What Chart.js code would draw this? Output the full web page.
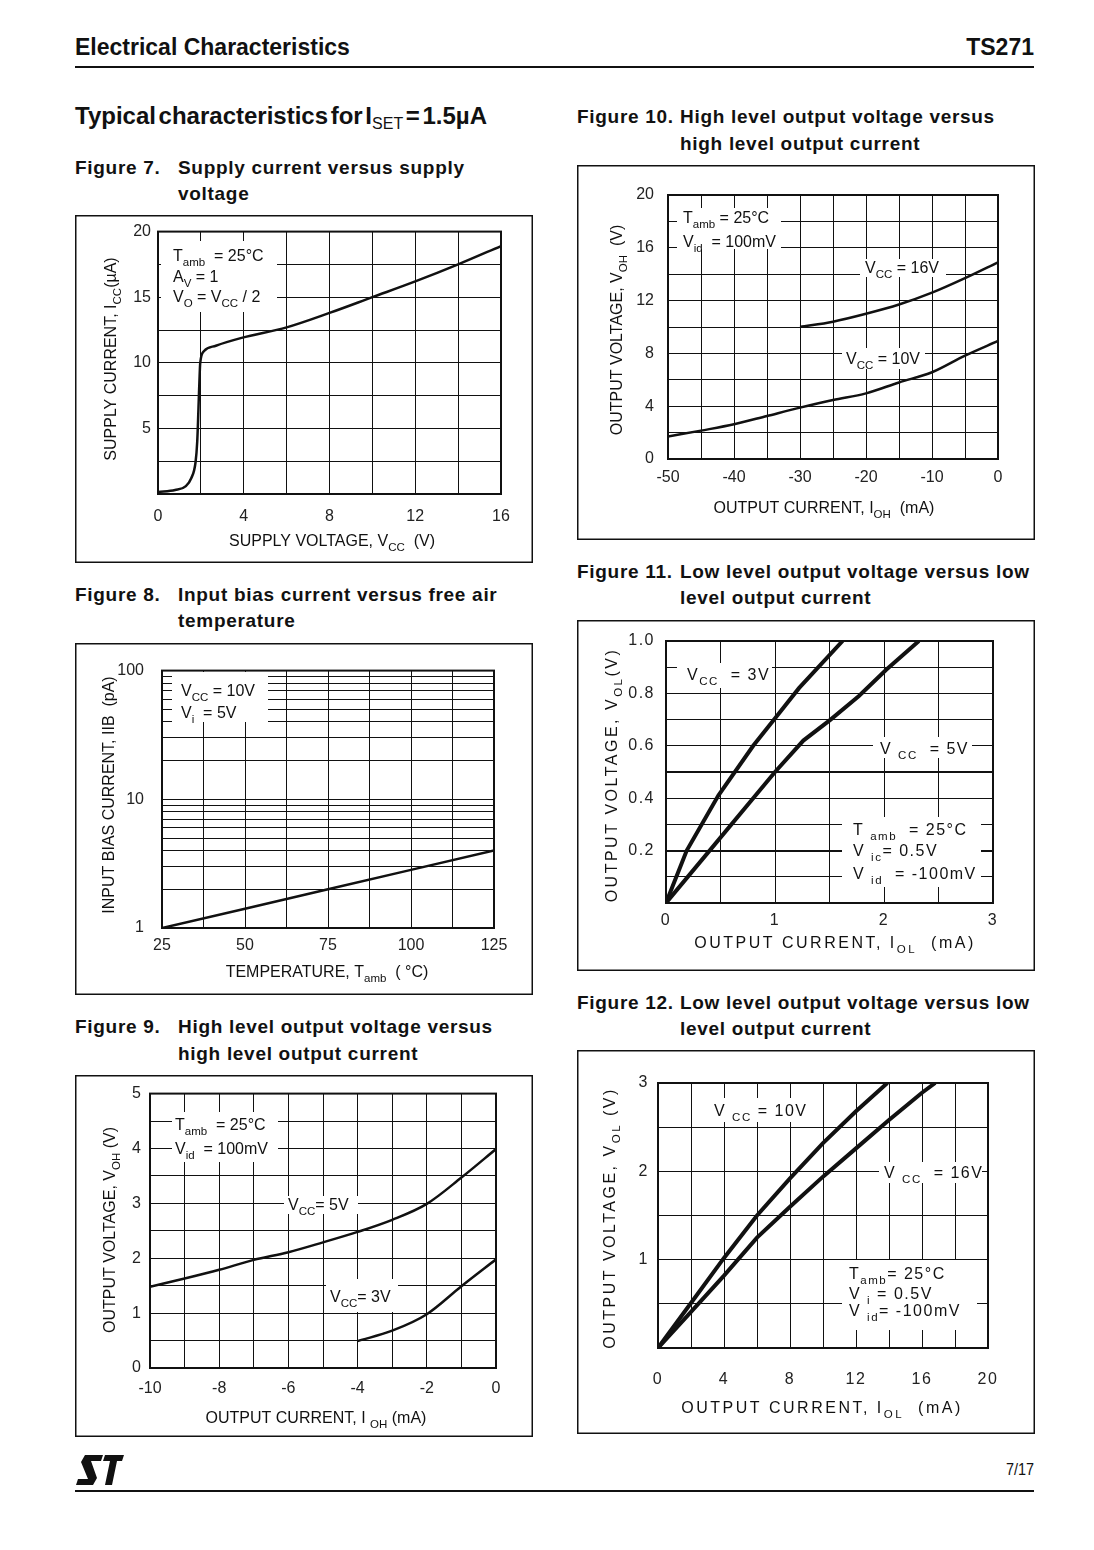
<!DOCTYPE html>
<html>
<head>
<meta charset="utf-8">
<script src="https://cdn.jsdelivr.net/npm/chart.js@4.4.0/dist/chart.umd.min.js"></script>
<style>
  body { margin: 0; background: #fff; }
  #page { position: relative; width: 1094px; height: 1550px; font-family: "Liberation Sans", Arial, sans-serif; color: #111; }
  .t { position: absolute; white-space: nowrap; line-height: 1; font-weight: bold; }
  .h { font-size: 23px; }
  .h2 { font-size: 24px; word-spacing: -4px; }
  .ft { font-size: 19px; letter-spacing: 0.7px; }
  .rule { position: absolute; left: 75px; width: 959px; background: #111; }
  canvas { position: absolute; }
</style>
</head>
<body>
<div id="page">
  <div class="t h" style="left:75px;top:36px">Electrical Characteristics</div>
  <div class="t h" style="right:60px;top:36px">TS271</div>
  <div class="rule" style="top:66px;height:2px"></div>

  <div class="t h2" style="left:75px;top:104px">Typical characteristics for I<span style="font-size:16px;position:relative;top:5px;font-weight:normal">SET</span> = 1.5µA</div>

  <div class="t ft" style="left:75px;top:158px">Figure 7.</div>
  <div class="t ft" style="left:178px;top:158px">Supply current versus supply</div>
  <div class="t ft" style="left:178px;top:184px">voltage</div>
  <canvas id="fig7" width="458" height="348" style="left:75px;top:215px"></canvas>

  <div class="t ft" style="left:75px;top:585px">Figure 8.</div>
  <div class="t ft" style="left:178px;top:585px">Input bias current versus free air</div>
  <div class="t ft" style="left:178px;top:611px">temperature</div>
  <canvas id="fig8" width="458" height="352" style="left:75px;top:643px"></canvas>

  <div class="t ft" style="left:75px;top:1017px">Figure 9.</div>
  <div class="t ft" style="left:178px;top:1017px">High level output voltage versus</div>
  <div class="t ft" style="left:178px;top:1044px">high level output current</div>
  <canvas id="fig9" width="458" height="362" style="left:75px;top:1075px"></canvas>

  <div class="t ft" style="left:577px;top:107px">Figure 10.</div>
  <div class="t ft" style="left:680px;top:107px">High level output voltage versus</div>
  <div class="t ft" style="left:680px;top:134px">high level output current</div>
  <canvas id="fig10" width="458" height="375" style="left:577px;top:165px"></canvas>

  <div class="t ft" style="left:577px;top:562px">Figure 11.</div>
  <div class="t ft" style="left:680px;top:562px">Low level output voltage versus low</div>
  <div class="t ft" style="left:680px;top:588px">level output current</div>
  <canvas id="fig11" width="458" height="351" style="left:577px;top:620px"></canvas>

  <div class="t ft" style="left:577px;top:993px">Figure 12.</div>
  <div class="t ft" style="left:680px;top:993px">Low level output voltage versus low</div>
  <div class="t ft" style="left:680px;top:1019px">level output current</div>
  <canvas id="fig12" width="458" height="384" style="left:577px;top:1050px"></canvas>

  <svg style="position:absolute;left:76px;top:1455px" width="48" height="30" viewBox="0 0 48 30">
    <polygon fill="#111" points="9,0 27,0 25,6 15,6 21,23 17,30 0,30 2,24 12,24 5,7"/>
    <polygon fill="#111" points="29,0 48,0 46,6 41,6 36,30 29,30 34,6 27,6"/>
  </svg>
  <div class="t" style="right:60px;top:1461px;font-size:17px;font-weight:normal;transform:scaleX(0.85);transform-origin:right">7/17</div>
  <div class="rule" style="top:1490px;height:1.5px"></div>
</div>

<script>
// Figure 7: supply current vs supply voltage
const fig7Vcc = [0, 0.8, 1.3, 1.55, 1.75, 1.83, 1.93, 1.97, 2.15, 2.7, 3.9, 6, 8, 10, 12, 14, 16];
const fig7Icc = [0.15, 0.3, 0.6, 1.2, 2.4, 4, 8.5, 10, 10.9, 11.3, 11.9, 12.7, 13.8, 15, 16.2, 17.5, 18.9];
const fig7XGrid = [0, 2, 4, 6, 8, 10, 12, 14, 16];
const fig7XLabels = [0, 4, 8, 12, 16];
const fig7YGrid = [0, 2.5, 5, 7.5, 10, 12.5, 15, 17.5, 20];
const fig7YLabels = [5, 10, 15, 20];

// Figure 8: input bias current vs temperature
const fig8Temp = [25, 50, 75, 100, 125];
const fig8Iib = [1, 1.41, 2, 2.83, 4];
const fig8XGrid = [25, 37.5, 50, 62.5, 75, 87.5, 100, 112.5, 125];
const fig8XLabels = [25, 50, 75, 100, 125];
const fig8YGrid = [1, 2, 3, 4, 5, 6, 7, 8, 9, 10, 20, 30, 40, 50, 60, 70, 80, 90, 100];
const fig8YLabels = [1, 10, 100];

// Figure 9: VOH vs IOH, Vcc = 5V and 3V
const fig9Ioh5 = [-10, -9, -8, -7, -6, -5, -4, -3, -2, -1, 0];
const fig9Voh5 = [1.48, 1.63, 1.79, 1.97, 2.11, 2.29, 2.48, 2.7, 2.99, 3.47, 3.99];
const fig9Ioh3 = [-4, -3, -2, -1, 0];
const fig9Voh3 = [0.49, 0.68, 0.98, 1.49, 1.98];
const fig9XGrid = [-10, -9, -8, -7, -6, -5, -4, -3, -2, -1, 0];
const fig9XLabels = [-10, -8, -6, -4, -2, 0];
const fig9YGrid = [0, 0.5, 1, 1.5, 2, 2.5, 3, 3.5, 4, 4.5, 5];
const fig9YLabels = [0, 1, 2, 3, 4, 5];

// Figure 10: VOH vs IOH, Vcc = 16V and 10V
const fig10Ioh16 = [-30, -25, -20, -15, -10, -5, 0];
const fig10Voh16 = [10.0, 10.4, 11.0, 11.7, 12.6, 13.7, 14.9];
const fig10Ioh10 = [-50, -45, -40, -35, -30, -25, -20, -15, -10, -5, 0];
const fig10Voh10 = [1.7, 2.15, 2.63, 3.26, 3.89, 4.47, 4.97, 5.8, 6.57, 7.83, 8.94];
const fig10XGrid = [-50, -45, -40, -35, -30, -25, -20, -15, -10, -5, 0];
const fig10XLabels = [-50, -40, -30, -20, -10, 0];
const fig10YGrid = [0, 2, 4, 6, 8, 10, 12, 14, 16, 18, 20];
const fig10YLabels = [0, 4, 8, 12, 16, 20];

// Figure 11: VOL vs IOL, Vcc = 3V and 5V
const fig11Iol3 = [0, 0.19, 0.48, 0.8, 1.01, 1.22, 1.62];
const fig11Vol3 = [0, 0.2, 0.41, 0.6, 0.71, 0.82, 1.0];
const fig11Iol5 = [0, 0.4, 1.0, 1.26, 1.51, 1.77, 2.02, 2.32];
const fig11Vol5 = [0, 0.2, 0.5, 0.62, 0.7, 0.79, 0.89, 1.0];
const fig11XGrid = [0, 0.5, 1, 1.5, 2, 2.5, 3];
const fig11XLabels = [0, 1, 2, 3];
const fig11YGrid = [0, 0.1, 0.2, 0.3, 0.4, 0.5, 0.6, 0.7, 0.8, 0.9, 1.0];
const fig11YLabels = [0.2, 0.4, 0.6, 0.8, 1.0];
const fig11YBold = [0.2, 0.5];

// Figure 12: VOL vs IOL, Vcc = 10V and 16V
const fig12Iol10 = [0, 2, 4, 6, 8, 10, 12, 13.9];
const fig12Vol10 = [0, 0.51, 1.02, 1.5, 1.92, 2.32, 2.68, 3.0];
const fig12Iol16 = [0, 2, 4, 6, 8, 10, 12, 14, 16, 16.8];
const fig12Vol16 = [0, 0.41, 0.82, 1.25, 1.6, 1.94, 2.26, 2.58, 2.89, 3.0];
const fig12XGrid = [0, 2, 4, 6, 8, 10, 12, 14, 16, 18, 20];
const fig12XLabels = [0, 4, 8, 12, 16, 20];
const fig12YGrid = [0, 0.5, 1, 1.5, 2, 2.5, 3];
const fig12YLabels = [1, 2, 3];

const FONT = '"Liberation Sans", Arial, sans-serif';
const INK = "#111";

// text like "V_{CC} = 10V" -> normal / subscript pieces
function parseRich(s) {
  const out = [];
  const re = /_\{([^}]*)\}/g;
  let last = 0, m;
  while ((m = re.exec(s))) {
    if (m.index > last) out.push({ t: s.slice(last, m.index), sub: false });
    out.push({ t: m[1], sub: true });
    last = re.lastIndex;
  }
  if (last < s.length) out.push({ t: s.slice(last), sub: false });
  return out;
}

// x,y = left (or centre) of the text, vertical middle of the capitals
function drawRich(ctx, s, x, y, o) {
  const size = o.size || 16;
  const segs = parseRich(s);
  ctx.save();
  ctx.translate(x, y);
  if (o.rotate) ctx.rotate(o.rotate);
  ctx.letterSpacing = (o.spacing || 0) + "px";
  ctx.fillStyle = INK;
  ctx.textBaseline = "alphabetic";
  let w = 0;
  segs.forEach(g => {
    g.size = g.sub ? size * 0.72 : size;
    ctx.font = g.size + "px " + FONT;
    g.w = ctx.measureText(g.t).width;
    w += g.w;
  });
  let cx = o.align === "center" ? -w / 2 : 0;
  const base = size * 0.36;
  segs.forEach(g => {
    ctx.font = g.size + "px " + FONT;
    ctx.fillText(g.t, cx, g.sub ? base + size * 0.3 : base);
    cx += g.w;
  });
  ctx.restore();
}

function figure(id, o) {
  const cv = document.getElementById(id);
  const W = cv.width, H = cv.height;
  const [L, T, R, B] = o.area;
  const tickFont = { family: FONT, size: 16 };

  const deco = {
    id: "deco" + id,
    beforeDraw(chart) {
      chart.ctx.letterSpacing = (o.tickSpacing || 0) + "px";
    },
    beforeDatasetsDraw(chart) {
      const ctx = chart.ctx, a = chart.chartArea;
      ctx.save();
      ctx.letterSpacing = "0px";
      ctx.lineWidth = 2;
      ctx.strokeStyle = INK;
      ctx.strokeRect(a.left, a.top, a.right - a.left, a.bottom - a.top);
      o.notes.forEach(n => {
        if (n.box) {
          ctx.fillStyle = "#fff";
          ctx.fillRect(n.box[0], n.box[1], n.box[2] - n.box[0], n.box[3] - n.box[1]);
        }
        n.lines.forEach(l => drawRich(ctx, l[0], l[1], l[2], { size: 16, spacing: o.noteSpacing }));
      });
      ctx.restore();
    },
    afterDraw(chart) {
      const ctx = chart.ctx;
      ctx.letterSpacing = "0px";
      drawRich(ctx, o.xTitle[0], o.xTitle[1], o.xTitle[2], { align: "center", spacing: o.titleSpacing });
      drawRich(ctx, o.yTitle[0], o.yTitle[1], o.yTitle[2], { align: "center", rotate: -Math.PI / 2, spacing: o.titleSpacing });
      ctx.save();
      ctx.lineWidth = 1.5;
      ctx.strokeStyle = INK;
      ctx.strokeRect(0.75, 0.75, W - 1.5, H - 1.5);
      ctx.restore();
    }
  };

  const axis = (grid, labels, fmt, pad, fit, bold) => ({
    min: grid[0],
    max: grid[grid.length - 1],
    afterBuildTicks: s => { s.ticks = grid.map(v => ({ value: v })); },
    afterFit: fit,
    ticks: {
      autoSkip: false, maxRotation: 0, padding: pad, font: tickFont, color: "#222",
      callback: v => labels.includes(v) ? fmt(v) : ""
    },
    grid: {
      color: INK, drawTicks: false,
      lineWidth: c => (bold && c.tick && bold.includes(c.tick.value)) ? 2 : 1
    },
    border: { display: false }
  });

  const x = axis(o.xGrid, o.xLabels, o.xFmt || String, o.xPad, s => { s.height = H - B; });
  const y = axis(o.yGrid, o.yLabels, o.yFmt || String, o.yPad, s => { s.width = L; }, o.yBold);
  x.type = "linear";
  y.type = o.yLog ? "logarithmic" : "linear";

  new Chart(cv, {
    type: "scatter",
    data: {
      datasets: o.series.map(s => ({
        data: s[0].map((v, i) => ({ x: v, y: s[1][i] })),
        showLine: true,
        borderColor: INK,
        borderWidth: o.lw,
        pointRadius: 0,
        cubicInterpolationMode: o.smooth ? "monotone" : "default",
        tension: 0
      }))
    },
    options: {
      responsive: false,
      animation: false,
      layout: { padding: { left: 0, top: T, right: W - R, bottom: 0 } },
      plugins: { legend: { display: false }, tooltip: { enabled: false } },
      scales: { x, y }
    },
    plugins: [deco]
  });
}

figure("fig7", {
  area: [83, 14, 426, 279], lw: 2.5, smooth: true,
  series: [[fig7Vcc, fig7Icc]],
  xGrid: fig7XGrid, xLabels: fig7XLabels, xPad: 13,
  yGrid: fig7YGrid, yLabels: fig7YLabels, yPad: 7,
  xTitle: ["SUPPLY VOLTAGE, V_{CC}  (V)", 257, 325],
  yTitle: ["SUPPLY CURRENT, I_{CC}(µA)", 35, 144],
  notes: [{ box: [86, 26, 202, 97], lines: [["T_{amb}  = 25°C", 98, 40], ["A_{V} = 1", 98, 61], ["V_{O} = V_{CC} / 2", 98, 81]] }]
});

figure("fig8", {
  area: [87, 17, 419, 285], lw: 2.5, yLog: true,
  series: [[fig8Temp, fig8Iib]],
  xGrid: fig8XGrid, xLabels: fig8XLabels, xPad: 8,
  yGrid: fig8YGrid, yLabels: fig8YLabels, yPad: 18,
  xTitle: ["TEMPERATURE, T_{amb}  ( °C)", 252, 328],
  yTitle: ["INPUT BIAS CURRENT, IIB  (pA)", 33, 152],
  notes: [{ box: [97, 29, 193, 79], lines: [["V_{CC} = 10V", 106, 47], ["V_{i}  = 5V", 106, 69]] }]
});

figure("fig9", {
  area: [75, 15, 421, 293], lw: 2.5, smooth: true,
  series: [[fig9Ioh5, fig9Voh5], [fig9Ioh3, fig9Voh3]],
  xGrid: fig9XGrid, xLabels: fig9XLabels, xPad: 11,
  yGrid: fig9YGrid, yLabels: fig9YLabels, yPad: 9,
  xTitle: ["OUTPUT CURRENT, I _{OH} (mA)", 241, 342],
  yTitle: ["OUTPUT VOLTAGE, V_{OH} (V)", 34, 155],
  notes: [
    { box: [97, 37, 203, 87], lines: [["T_{amb}  = 25°C", 100, 49], ["V_{id}  = 100mV", 100, 73]] },
    { box: [209, 121, 283, 139], lines: [["V_{CC}= 5V", 213, 129]] },
    { box: [251, 204, 323, 237], lines: [["V_{CC}= 3V", 255, 221]] }
  ]
});

figure("fig10", {
  area: [91, 30, 421, 294], lw: 2.5, smooth: true,
  series: [[fig10Ioh16, fig10Voh16], [fig10Ioh10, fig10Voh10]],
  xGrid: fig10XGrid, xLabels: fig10XLabels, xPad: 9,
  yGrid: fig10YGrid, yLabels: fig10YLabels, yPad: 14,
  xTitle: ["OUTPUT CURRENT, I_{OH}  (mA)", 247, 342],
  yTitle: ["OUTPUT VOLTAGE, V_{OH}  (V)", 39, 165],
  notes: [
    { box: [100, 43, 204, 84], lines: [["T_{amb} = 25°C", 106, 52], ["V_{id}  = 100mV", 106, 76]] },
    { box: [283, 94, 369, 112], lines: [["V_{CC} = 16V", 288, 102]] },
    { box: [265, 183, 348, 204], lines: [["V_{CC} = 10V", 269, 193]] }
  ]
});

figure("fig11", {
  area: [89, 21, 416, 283], lw: 4,
  series: [[fig11Iol3, fig11Vol3], [fig11Iol5, fig11Vol5]],
  xGrid: fig11XGrid, xLabels: fig11XLabels, xPad: 8,
  yGrid: fig11YGrid, yLabels: fig11YLabels, yPad: 11, yFmt: v => v.toFixed(1), yBold: fig11YBold,
  tickSpacing: 1.5, titleSpacing: 2.5, noteSpacing: 1.5,
  xTitle: ["OUTPUT CURRENT, I_{OL}  (mA)", 258, 322],
  yTitle: ["OUTPUT VOLTAGE, V_{OL}(V)", 34, 155],
  notes: [
    { box: [100, 43, 195, 68], lines: [["V_{CC}  = 3V", 110, 54]] },
    { box: [296, 117, 395, 138], lines: [["V _{CC}  = 5V", 303, 128]] },
    { box: [265, 197, 404, 267], lines: [["T _{amb}  = 25°C", 276, 209], ["V _{ic}= 0.5V", 276, 230], ["V _{id}  = -100mV", 276, 253]] }
  ]
});

figure("fig12", {
  area: [81, 33, 411, 298], lw: 4,
  series: [[fig12Iol10, fig12Vol10], [fig12Iol16, fig12Vol16]],
  xGrid: fig12XGrid, xLabels: fig12XLabels, xPad: 22,
  yGrid: fig12YGrid, yLabels: fig12YLabels, yPad: 9,
  tickSpacing: 1.5, titleSpacing: 2.5, noteSpacing: 1.5,
  xTitle: ["OUTPUT CURRENT, I_{OL}  (mA)", 245, 357],
  yTitle: ["OUTPUT VOLTAGE, V_{OL} (V)", 32, 168],
  notes: [
    { box: [132, 48, 233, 72], lines: [["V _{CC} = 10V", 137, 60]] },
    { box: [302, 112, 405, 133], lines: [["V _{CC}  = 16V", 307, 122]] },
    { box: [265, 210, 400, 280], lines: [["T_{amb}= 25°C", 272, 223], ["V _{i} = 0.5V", 272, 243], ["V _{id}= -100mV", 272, 260]] }
  ]
});
</script>
</body>
</html>
